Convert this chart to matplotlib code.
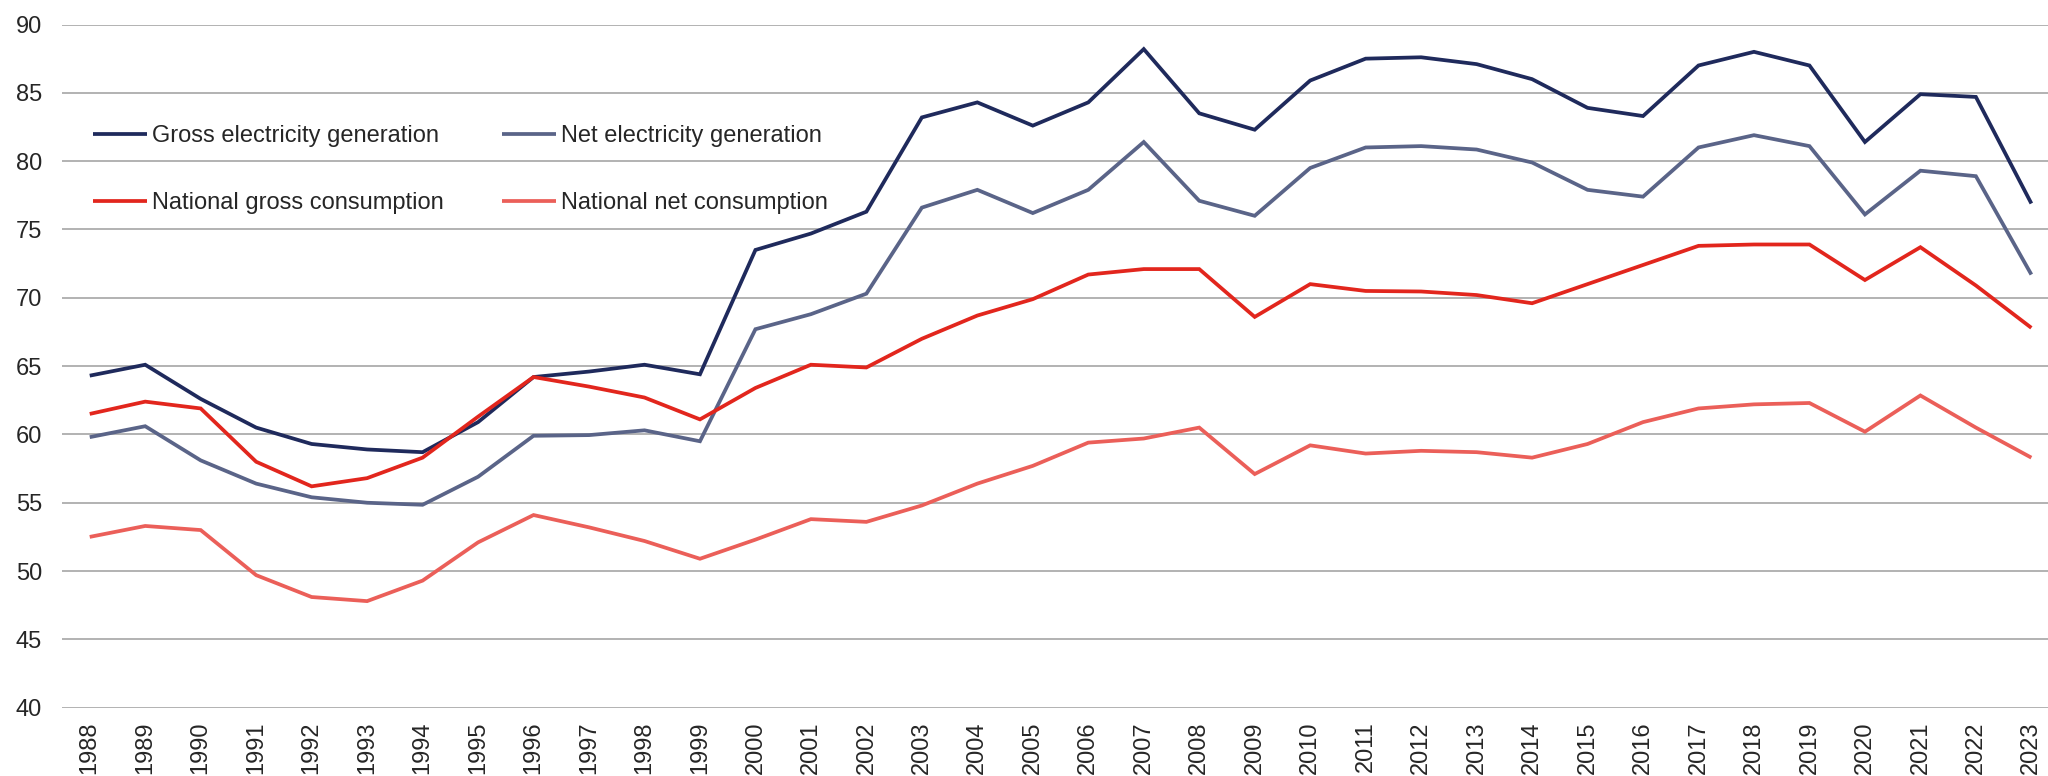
import matplotlib
matplotlib.use("Agg")
import matplotlib.pyplot as plt

years = list(range(1988, 2024))

gross_generation = [64.3, 65.1, 62.6, 60.5, 59.3, 58.9, 58.7, 60.9, 64.2, 64.6,
                    65.1, 64.4, 73.5, 74.7, 76.3, 83.2, 84.3, 82.6, 84.3, 88.2,
                    83.5, 82.3, 85.9, 87.5, 87.6, 87.1, 86.0, 83.9, 83.3, 87.0,
                    88.0, 87.0, 81.4, 84.9, 84.7, 76.9]
net_generation = [59.8, 60.6, 58.1, 56.4, 55.4, 55.0, 54.85, 56.9, 59.9, 59.95,
                  60.3, 59.5, 67.7, 68.8, 70.3, 76.6, 77.9, 76.2, 77.9, 81.4,
                  77.1, 76.0, 79.5, 81.0, 81.1, 80.85, 79.9, 77.9, 77.4, 81.0,
                  81.9, 81.1, 76.1, 79.3, 78.9, 71.7]
gross_consumption = [61.5, 62.4, 61.9, 58.0, 56.2, 56.8, 58.3, 61.3, 64.2, 63.5,
                     62.7, 61.1, 63.4, 65.1, 64.9, 67.0, 68.7, 69.9, 71.7, 72.1,
                     72.1, 68.6, 71.0, 70.5, 70.46, 70.2, 69.6, 71.0, 72.4, 73.8,
                     73.9, 73.9, 71.3, 73.7, 70.9, 67.8]
net_consumption = [52.5, 53.3, 53.0, 49.7, 48.1, 47.8, 49.3, 52.1, 54.1, 53.2,
                   52.2, 50.9, 52.3, 53.8, 53.6, 54.8, 56.4, 57.7, 59.4, 59.7,
                   60.5, 57.1, 59.2, 58.6, 58.8, 58.7, 58.3, 59.3, 60.9, 61.9,
                   62.2, 62.3, 60.2, 62.85, 60.5, 58.3]

series_labels = ["Gross electricity generation", "Net electricity generation",
                 "National gross consumption", "National net consumption"]
series_colors = ["#1f2a5c", "#5a6488", "#e2261d", "#eb5f59"]
y_ticks = [40, 45, 50, 55, 60, 65, 70, 75, 80, 85, 90]

plt.rcParams['font.family'] = ['Liberation Sans', 'DejaVu Sans']

W, H = 2048, 776
fig = plt.figure(figsize=(W / 100, H / 100), dpi=100)
ax = fig.add_axes([62 / W, 1 - 707.7 / H, 1 - 62 / W, (707.7 - 24.5) / H])

data = [gross_generation, net_generation, gross_consumption, net_consumption]
lines = []
for vals, lab, col in zip(data, series_labels, series_colors):
    ln, = ax.plot(years, vals, color=col, lw=2.7, label=lab, solid_joinstyle='miter',
                  solid_capstyle='butt', zorder=3)
    lines.append(ln)

ax.set_ylim(40, 90)
ax.set_xlim(1987.5, 2023.3)
ax.set_yticks(y_ticks)
ax.set_yticklabels([str(t) for t in y_ticks])
ax.set_xticks(years)
ax.set_xticklabels([str(y) for y in years], rotation=90)

ax.grid(axis='y', color='#a6a6a6', lw=1.2, zorder=0)
ax.grid(axis='x', visible=False)
for s in ax.spines.values():
    s.set_visible(False)
ax.tick_params(axis='both', length=0, labelsize=17, colors='#262626')
ax.tick_params(axis='y', pad=14.5)
ax.tick_params(axis='x', pad=10)

order = [0, 2, 1, 3]
leg = ax.legend([lines[i] for i in order], [series_labels[i] for i in order],
                loc='upper left', bbox_to_anchor=(93 / W, 1 - 125 / H),
                bbox_transform=fig.transFigure, ncol=2, frameon=False,
                fontsize=17, handlelength=2.3, handletextpad=0.22,
                columnspacing=2.43, labelspacing=1.9, borderpad=0,
                borderaxespad=0)
for t in leg.get_texts():
    t.set_color('#262626')

fig.savefig("out.png", dpi=100)
